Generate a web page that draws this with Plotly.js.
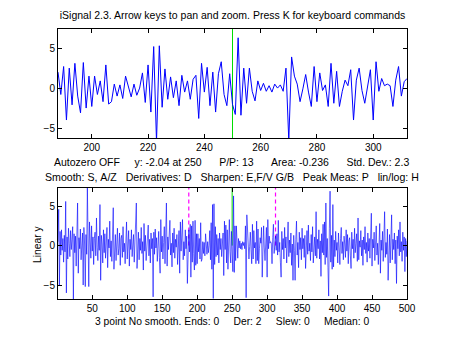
<!DOCTYPE html>
<html>
<head>
<meta charset="utf-8">
<script src="https://cdn.plot.ly/plotly-3.0.1.min.js"></script>
<style>html,body{margin:0;padding:0;background:#fff;}#chart{width:450px;height:338px;}</style>
</head>
<body>
<div id="chart"></div>
<script>
// ---- data ----
var signalStart = [ // points 1-187
 0.5, 4.6, -5.0, 1.8, -1.2, 2.0, -0.6, 0.9, -2.1, 1.3,
 -0.8, 5.6, -6.0, 1.1, -1.7, 2.2, 0.3, -1.4, 1.9, -0.5,
 0.8, 2.4, -6.8, 1.5, -0.9, 1.2, -2.6, 0.6, 5.4, -3.5,
 1.0, -0.4, 2.1, -1.8, 0.7, 1.6, -5.0, 2.3, 0.2, -5.2,
 1.4, -1.1, 7.3, -2.0, -5.2, 3.0, 0.4, -1.6, 2.5, -0.7,
 1.1, -2.4, 0.9, 1.7, -1.3, 3.5, -0.2, -1.9, 1.2, -0.6,
 5.2, -4.4, 1.3, 0.2, -2.2, 2.0, -0.9, 1.5, -1.6, 0.4,
 2.3, -2.8, 0.8, -0.3, 3.1, -1.4, 0.6, -2.0, 1.8, 4.8,
 -3.0, 0.5, 1.4, -1.9, 0.7, 2.2, -1.2, -0.4, 1.6, -2.5,
 0.9, 1.3, -1.5, 2.4, -0.8, 0.3, -2.3, 1.1, 3.0, -1.7,
 0.2, 1.9, -2.6, 0.8, -0.5, 2.0, -1.4, 0.6, 1.4, -2.1,
 0.7, 1.2, 5.4, -2.9, 0.4, 1.7, -1.8, 0.9, -0.6, 2.3,
 -1.0, 0.5, -3.1, 2.8, -0.7, 1.3, -1.9, 0.2, 1.5, 2.6,
 -1.3, 0.8, -2.2, 1.6, -0.4, 0.9, -6.5, 1.7, -1.1, 2.1,
 -0.3, 1.0, -2.0, 0.6, 1.8, -1.5, -3.5, 3.3, -0.8, 1.2,
 -1.7, 0.4, 2.4, -2.3, 0.7, 5.4, -2.6, 1.1, -0.5, 1.9,
 3.2, -1.2, 0.3, -2.7, 1.6, -0.9, 2.2, -1.6, 0.8, -0.2,
 1.4, -2.4, 0.6, 1.9, -3.5, 3.0, -0.7, 1.0, 3.3, -1.8,
 0.5, -1.3, 2.0, -0.4, 1.2, -4.8, 0.9
];
var signalWindow = [ // points 188-312 (zoomed in upper panel)
 2.0, -0.8, 2.7, -4.0, 2.5, -2.1, 3.1, -1.0, -3.1, 3.2,
 -2.5, 1.5, -2.3, 1.5, -0.8, 0.9, -1.7, 2.9, -2.0, -1.7,
 0.5, -1.0, 0.4, -1.3, 1.5, 0.0, -1.1, 0.5, -0.9, 0.0,
 1.9, -1.8, 2.9, -3.0, 5.2, -6.7, 5.3, -2.4, 2.4, -1.4,
 1.4, -1.2, 0.9, -2.2, 1.6, -0.5, 0.9, -1.4, 1.1, 1.6,
 -3.8, 3.1, -0.5, 2.6, -2.2, 2.0, -3.0, 1.8, 3.3, -0.8,
 -2.2, 1.8, -2.04, -3.3, 6.3, -3.4, 2.5, -1.9, 2.5, -0.4,
 -1.6, 0.9, -0.3, 0.6, -0.4, 0.3, -0.5, 0.5, 0.0, 0.4,
 -0.4, 2.5, -6.6, 3.9, 1.5, 0.5, -1.7, -0.1, 1.7, -0.5,
 -2.3, 2.7, -1.7, 1.9, -0.3, 0.4, -2.3, 3.1, -1.9, 2.1,
 -2.3, -0.4, 1.0, 0.3, 2.3, -4.0, 1.0, 2.5, -0.3, -1.9,
 0.2, 2.3, -4.0, 3.3, -0.4, 1.2, 0.3, 0.5, 0.3, -2.3,
 1.0, 2.7, -1.0, 0.8, 1.2
];
var signalEnd = [ // points 313-500
 -0.6, 1.5, -1.2, 3.2, -0.8, 0.4, -2.1, -4.0,
 1.8, -0.5, 0.9, -1.7, 2.3, -0.3, 1.1, -2.2, 0.6, 3.0,
 -1.4, 0.7, -0.9, 1.6, -2.5, 0.2, -4.4, 1.3, -0.6, -4.4,
 0.8, 3.1, -1.2, 0.4, -2.8, 1.7, -0.5, 1.0, -1.8, 2.2,
 -0.4, 0.9, -1.5, 1.3, -2.9, 0.6, 1.9, -1.1, 2.6, -0.7,
 0.3, -1.9, 1.4, -0.8, 2.4, -2.2, 0.5, 1.1, -1.3, 4.3,
 -1.6, 0.8, -0.4, 2.0, -1.7, 0.6, -3.9, 1.5, -0.9, 2.7,
 -1.2, 3.0, -2.4, 5.4, -1.5, 0.9, -2.8, -6.4, 2.2, 6.9,
 -2.1, 1.3, -3.0, 5.2, -2.7, 0.7, -1.4, 1.8, -0.6, 0.4,
 -2.2, 1.6, -0.3, -2.4, 0.9, 2.3, -1.0, 0.5, -1.8, 1.2,
 0.2, -1.5, 2.0, -0.7, 1.4, -2.3, 0.6, 1.0, -1.2, -2.9,
 1.7, -0.4, 0.8, -1.6, 2.2, -0.9, 0.3, 1.5, -2.0, 3.5,
 -1.8, 0.6, -0.2, 1.9, -1.3, 0.7, -2.5, 1.1, -0.5, 2.4,
 -1.0, 0.4, -2.1, 1.6, -0.7, 0.9, -1.6, 2.0, 4.1, -2.6,
 0.8, -0.3, 1.7, -1.9, 0.5, 2.5, -1.2, 0.3, -2.4, 1.3,
 2.8, -3.5, 0.7, -0.6, 1.8, -2.0, 0.9, 4.3, -1.5, 0.4,
 -1.1, 2.1, -4.4, 0.6, 1.4, -2.2, 0.3, 3.9, -1.8, 0.8,
 -0.5, 1.6, -2.3, 0.7, -4.8, 1.2, -0.4, 2.0, -1.3, 3.0,
 -0.8, 0.5, -2.0, 1.7, -0.6, 1.1, -3.3, 0.9, -1.4, 0.6
];
var windowStart = 188;
var windowEnd = 312;
var cursorX = 250;
var topXTicks = [200, 220, 240, 260, 280, 300];
var bottomXTicks = [50, 100, 150, 200, 250, 300, 350, 400, 450, 500];
var yTicks = [-5, 0, 5];
var topYRange = [-6.25, 7.4];
var bottomYRange = [-6.77, 7.3];

var titleText = "iSignal 2.3. Arrow keys to pan and zoom. Press K for keyboard commands";
var infoLine1 = "Autozero OFF     y: -2.04 at 250      P/P: 13      Area: -0.236      Std. Dev.: 2.3";
var infoLine2 = "Smooth: S, A/Z   Derivatives: D   Sharpen: E,F/V G/B   Peak Meas: P   lin/log: H";
var infoLine3 = "3 point No smooth. Ends: 0     Der: 2     Slew: 0     Median: 0";
var yLabel = "Linear y";

// ---- build ----
var signalY = signalStart.concat(signalWindow, signalEnd);
var signalX = [];
for (var i = 0; i < signalY.length; i++) signalX.push(i + 1);
var winX = [], winY = [];
for (var j = 0; j < signalX.length; j++) {
  if (signalX[j] >= windowStart && signalX[j] <= windowEnd) { winX.push(signalX[j]); winY.push(signalY[j]); }
}
function nb(s) { return s.replace(/ /g, "\u00A0"); }

var FONT = "Liberation Sans, Arial, sans-serif";
var blue = "#0000ff";
var traces = [
  {x: winX, y: winY, xaxis: "x", yaxis: "y", type: "scatter", mode: "lines",
   line: {color: blue, width: 1}, hoverinfo: "skip"},
  {x: signalX, y: signalY, xaxis: "x2", yaxis: "y2", type: "scatter", mode: "lines",
   line: {color: blue, width: 0.6}, hoverinfo: "skip"}
];

var axisCommon = {
  showgrid: false, zeroline: false, showline: true, linecolor: "#000", linewidth: 1,
  mirror: "ticks", ticks: "inside", ticklen: 4, tickcolor: "#000", tickwidth: 1,
  tickfont: {family: FONT, size: 10, color: "#000"}
};
function ax(extra) { var o = {}; for (var k in axisCommon) o[k] = axisCommon[k]; for (var k2 in extra) o[k2] = extra[k2]; return o; }

var markerTop = bottomYRange[1];
var layout = {
  width: 450, height: 338,
  margin: {l: 58, r: 43, t: 29, b: 39},
  paper_bgcolor: "#fff", plot_bgcolor: "#fff",
  showlegend: false, hovermode: false,
  title: {text: titleText, font: {family: FONT, size: 10.5, color: "#000"},
          xref: "paper", x: 0.5, xanchor: "center", yref: "container", y: 0.955, yanchor: "middle"},
  xaxis: ax({domain: [0, 1], anchor: "y", range: [windowStart, windowEnd], tickmode: "array", tickvals: topXTicks}),
  yaxis: ax({domain: [0.5963, 1], anchor: "x", range: topYRange, tickmode: "array", tickvals: yTicks}),
  xaxis2: ax({domain: [0, 1], anchor: "y2", range: [1, signalY.length], tickmode: "array", tickvals: bottomXTicks}),
  yaxis2: ax({domain: [0, 0.4111], anchor: "x2", range: bottomYRange, tickmode: "array", tickvals: yTicks}),
  shapes: [
    {type: "line", xref: "x", yref: "y domain", x0: cursorX, x1: cursorX, y0: 0, y1: 1,
     line: {color: "#00dd00", width: 1}, layer: "below"},
    {type: "line", xref: "x2", yref: "y2", x0: cursorX, x1: cursorX, y0: 0, y1: markerTop,
     line: {color: "#00dd00", width: 1}, layer: "below"},
    {type: "line", xref: "x2", yref: "y2", x0: windowStart, x1: windowStart, y0: 0, y1: markerTop,
     line: {color: "#ff00ff", width: 1.2, dash: "4px,3px"}, layer: "below"},
    {type: "line", xref: "x2", yref: "y2", x0: windowEnd, x1: windowEnd, y0: 0, y1: markerTop,
     line: {color: "#ff00ff", width: 1.2, dash: "4px,3px"}, layer: "below"}
  ],
  annotations: [
    {text: nb(infoLine1), xref: "paper", yref: "paper", x: 0.496, y: 0.5085, xanchor: "center", yanchor: "middle",
     showarrow: false, font: {family: FONT, size: 10.5, color: "#000"}},
    {text: nb(infoLine2), xref: "paper", yref: "paper", x: 0.499, y: 0.453, xanchor: "center", yanchor: "middle",
     showarrow: false, font: {family: FONT, size: 10.6, color: "#000"}},
    {text: nb(infoLine3), xref: "paper", yref: "paper", x: 0.499, y: -0.085, xanchor: "center", yanchor: "middle",
     showarrow: false, font: {family: FONT, size: 10.3, color: "#000"}},
    {text: yLabel, xref: "paper", yref: "paper", x: -0.06, y: 0.2, xanchor: "center", yanchor: "middle",
     textangle: -90, showarrow: false, font: {family: FONT, size: 10.3, color: "#000"}}
  ]
};

Plotly.newPlot("chart", traces, layout, {staticPlot: true, displayModeBar: false});
</script>
</body>
</html>
